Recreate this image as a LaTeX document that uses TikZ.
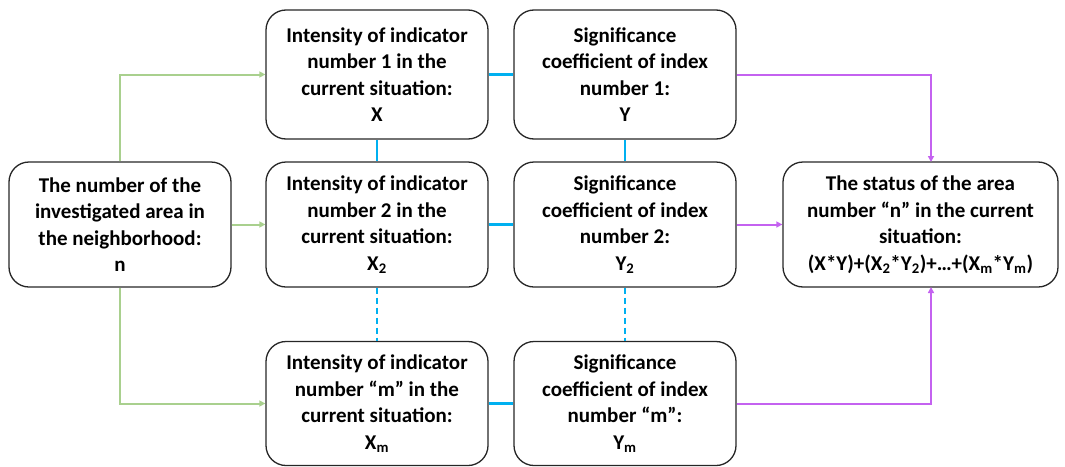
\documentclass[tikz,border=0pt]{standalone}
\usepackage{fontspec}
\setmainfont{Carlito}
\usetikzlibrary{arrows.meta}
\definecolor{gr}{RGB}{169,208,142}
\definecolor{bl}{RGB}{0,176,240}
\definecolor{pu}{RGB}{196,98,240}
\tikzset{
 box/.style={draw=black!85, line width=1.3pt, rounded corners=20pt, align=center,
   font=\bfseries\fontsize{21}{26.5}\selectfont, inner sep=0pt},
 gline/.style={draw=gr, line width=2pt, -{Triangle[length=6pt,width=6pt]}},
 bline/.style={draw=bl, line width=2.2pt},
 pline/.style={draw=pu, line width=2pt, -{Triangle[length=6pt,width=6pt]}},
}
\begin{document}
\begin{tikzpicture}[x=1pt,y=-1pt]
\useasboundingbox (0,0) rectangle (1065,466);
\node[box, minimum width=222pt, minimum height=125pt] (A) at (120,224.5)
 {The number of the\\investigated area in\\the neighborhood:\\n};
\node[box, minimum width=222pt, minimum height=129pt] (X1) at (377,74.5)
 {Intensity of indicator\\number 1 in the\\current situation:\\X};
\node[box, minimum width=222pt, minimum height=125pt] (X2) at (377,224.5)
 {Intensity of indicator\\number 2 in the\\current situation:\\X\textsubscript{2}};
\node[box, minimum width=222pt, minimum height=124pt] (Xm) at (377,403.5)
 {Intensity of indicator\\number “m” in the\\current situation:\\X\textsubscript{m}};
\node[box, minimum width=222pt, minimum height=129pt] (Y1) at (625,74.5)
 {Significance\\coefficient of index\\number 1:\\Y};
\node[box, minimum width=222pt, minimum height=125pt] (Y2) at (625,224.5)
 {Significance\\coefficient of index\\number 2:\\Y\textsubscript{2}};
\node[box, minimum width=222pt, minimum height=124pt] (Ym) at (625,403.5)
 {Significance\\coefficient of index\\number “m”:\\Y\textsubscript{m}};
\node[box, minimum width=275pt, minimum height=125pt] (S) at (920.5,224.5)
 {The status of the area\\number “n” in the current\\situation:\\(X*Y)+(X\textsubscript{2}*Y\textsubscript{2})+…+(X\textsubscript{m}*Y\textsubscript{m})};
% green
\draw[gline] (A.north) |- (X1.west);
\draw[gline] (A.east) -- (X2.west);
\draw[gline] (A.south) |- (Xm.west);
% blue
\draw[bline] (X1.east) -- (Y1.west);
\draw[bline] (X2.east) -- (Y2.west);
\draw[bline] (Xm.east) -- (Ym.west);
\draw[bline] (X1.south) -- (X2.north);
\draw[bline] (Y1.south) -- (Y2.north);
\draw[bline, dash pattern=on 6pt off 4pt] (X2.south) -- (Xm.north);
\draw[bline, dash pattern=on 6pt off 4pt] (Y2.south) -- (Ym.north);
% purple
\coordinate (st) at (931,162);
\coordinate (sb) at (931,287);
\draw[pline] (Y1.east) -| (st);
\draw[pline] (Y2.east) -- (S.west);
\draw[pline] (Ym.east) -| (sb);
\end{tikzpicture}
\end{document}
